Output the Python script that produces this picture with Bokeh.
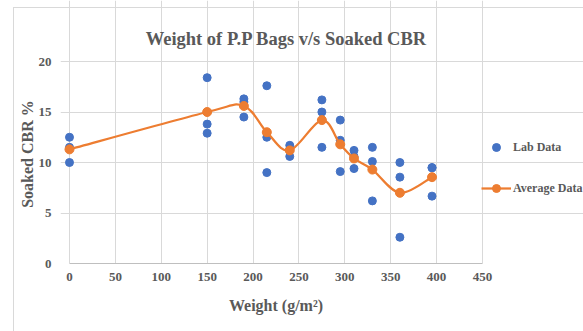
import numpy as np
from bokeh.plotting import figure
from bokeh.models import (Legend, LegendItem, FixedTicker, ColumnDataSource,
                          InlineStyleSheet, Label)
from bokeh.embed import file_html
from bokeh.resources import INLINE

# ---- data ----
lab_x = [0, 0, 0, 150, 150, 150, 190, 190, 190, 215, 215, 215,
         240, 240, 240, 275, 275, 275, 295, 295, 295, 310, 310, 310,
         330, 330, 330, 360, 360, 360, 395, 395, 395]
lab_y = [12.5, 11.5, 10.0, 18.4, 13.8, 12.9, 16.3, 16.0, 14.5, 17.6, 12.5, 9.0,
         11.7, 11.3, 10.6, 16.2, 15.0, 11.5, 14.2, 12.2, 9.1, 11.2, 10.6, 9.4,
         11.5, 10.1, 6.2, 10.0, 8.55, 2.6, 9.5, 9.47, 6.67]
avg_x = [0, 150, 190, 215, 240, 275, 295, 310, 330, 360, 395]
avg_y = [11.3, 15.0, 15.6, 13.0, 11.2, 14.2, 11.8, 10.4, 9.3, 7.0, 8.55]
x_ticks = [0, 50, 100, 150, 200, 250, 300, 350, 400, 450]
y_ticks = [0, 5, 10, 15, 20]

GRAY = "#595959"
GRID = "#d9d9d9"
BLUE = "#4472C4"
ORANGE = "#ED7D31"
FONT = "Liberation Serif"
NB = "\u00a0"

border_css = InlineStyleSheet(css="""
:host { position: relative; }
:host::after {
  content: ""; position: absolute; left: 13px; top: 7px;
  width: 600px; height: 400px; border: 1px solid #d9d9d9;
  pointer-events: none; box-sizing: border-box;
}
""")

# frame spans the title and legend area too, so nothing is clipped;
# grids and axis are bounded to the real plot area (0..450, 0..20)
p = figure(width=583, height=331, output_backend="svg", toolbar_location=None,
           x_range=(-9.8, 560.05), y_range=(0, 26.04),
           min_border_left=60, min_border_right=0, min_border_top=0,
           min_border_bottom=68, stylesheets=[border_css])
p.outline_line_color = None
p.background_fill_color = "white"
p.border_fill_color = "white"

for ax in (p.xaxis[0], p.yaxis[0]):
    ax.major_label_text_font = FONT
    ax.major_label_text_font_style = "bold"
    ax.major_label_text_font_size = "13px"
    ax.major_label_text_color = GRAY
    ax.major_tick_line_color = None
    ax.minor_tick_line_color = None
    ax.axis_label_text_font = FONT
    ax.axis_label_text_font_style = "bold"
    ax.axis_label_text_font_size = "16px"
    ax.axis_label_text_color = GRAY
p.xaxis.ticker = FixedTicker(ticks=x_ticks)
p.yaxis.ticker = FixedTicker(ticks=y_ticks)
p.xaxis.bounds = (x_ticks[0], x_ticks[-1])
p.yaxis.bounds = (y_ticks[0], y_ticks[-1])
p.xaxis.axis_line_color = "#bfbfbf"
p.yaxis.axis_line_color = None
p.xaxis.major_label_standoff = 3
p.yaxis.major_label_standoff = 3
# trailing no-break spaces centre the labels on the plot area, not the frame
p.xaxis.axis_label = "Weight (g/m²)" + NB * 23
p.yaxis.axis_label = "Soaked CBR %" + NB * 11
p.xaxis.axis_label_standoff = 13
p.yaxis.axis_label_standoff = 0
p.xgrid.ticker = FixedTicker(ticks=x_ticks)
p.ygrid.ticker = FixedTicker(ticks=y_ticks)
p.xgrid.bounds = (y_ticks[0], y_ticks[-1])
p.ygrid.bounds = (x_ticks[0], x_ticks[-1])
p.xgrid.grid_line_color = GRID
p.ygrid.grid_line_color = GRID

# title
p.add_layout(Label(x=236.4, y=22.2, text="Weight of P.P Bags v/s Soaked CBR",
                   text_align="center", text_baseline="alphabetic",
                   text_font=FONT, text_font_style="bold",
                   text_font_size="18.5px", text_color=GRAY))

# lab data
lab = p.scatter(lab_x, lab_y, size=8, color=BLUE)

# smoothed average line (Catmull-Rom -> cubic bezier)
ax_ = np.array(avg_x, float)
ay_ = np.array(avg_y, float)
n = len(ax_)
px = np.concatenate([[ax_[0]], ax_, [ax_[-1]]])
py = np.concatenate([[ay_[0]], ay_, [ay_[-1]]])
t = 1.0 / 6.0
src = ColumnDataSource(dict(
    x0=ax_[:-1], y0=ay_[:-1], x1=ax_[1:], y1=ay_[1:],
    cx0=ax_[:-1] + (px[2:n + 1] - px[0:n - 1]) * t,
    cy0=ay_[:-1] + (py[2:n + 1] - py[0:n - 1]) * t,
    cx1=ax_[1:] - (px[3:n + 2] - px[1:n]) * t,
    cy1=ay_[1:] - (py[3:n + 2] - py[1:n]) * t,
))
avg_curve = p.bezier(x0="x0", y0="y0", x1="x1", y1="y1", cx0="cx0", cy0="cy0",
                     cx1="cx1", cy1="cy1", source=src, line_color=ORANGE,
                     line_width=2.25)
avg_pts = p.scatter(avg_x, avg_y, size=9, color=ORANGE)

legend = Legend(items=[LegendItem(label="Lab Data", renderers=[lab]),
                       LegendItem(label="Average Data", renderers=[avg_curve, avg_pts])],
                location=(421, 65), padding=0, margin=0, spacing=21,
                glyph_width=30, glyph_height=20, label_height=20,
                label_standoff=2, border_line_color=None,
                background_fill_alpha=0,
                label_text_font=FONT, label_text_font_style="bold",
                label_text_font_size="12px", label_text_color=GRAY)
p.add_layout(legend, "center")

open("out.html", "w").write(file_html(p, INLINE))
